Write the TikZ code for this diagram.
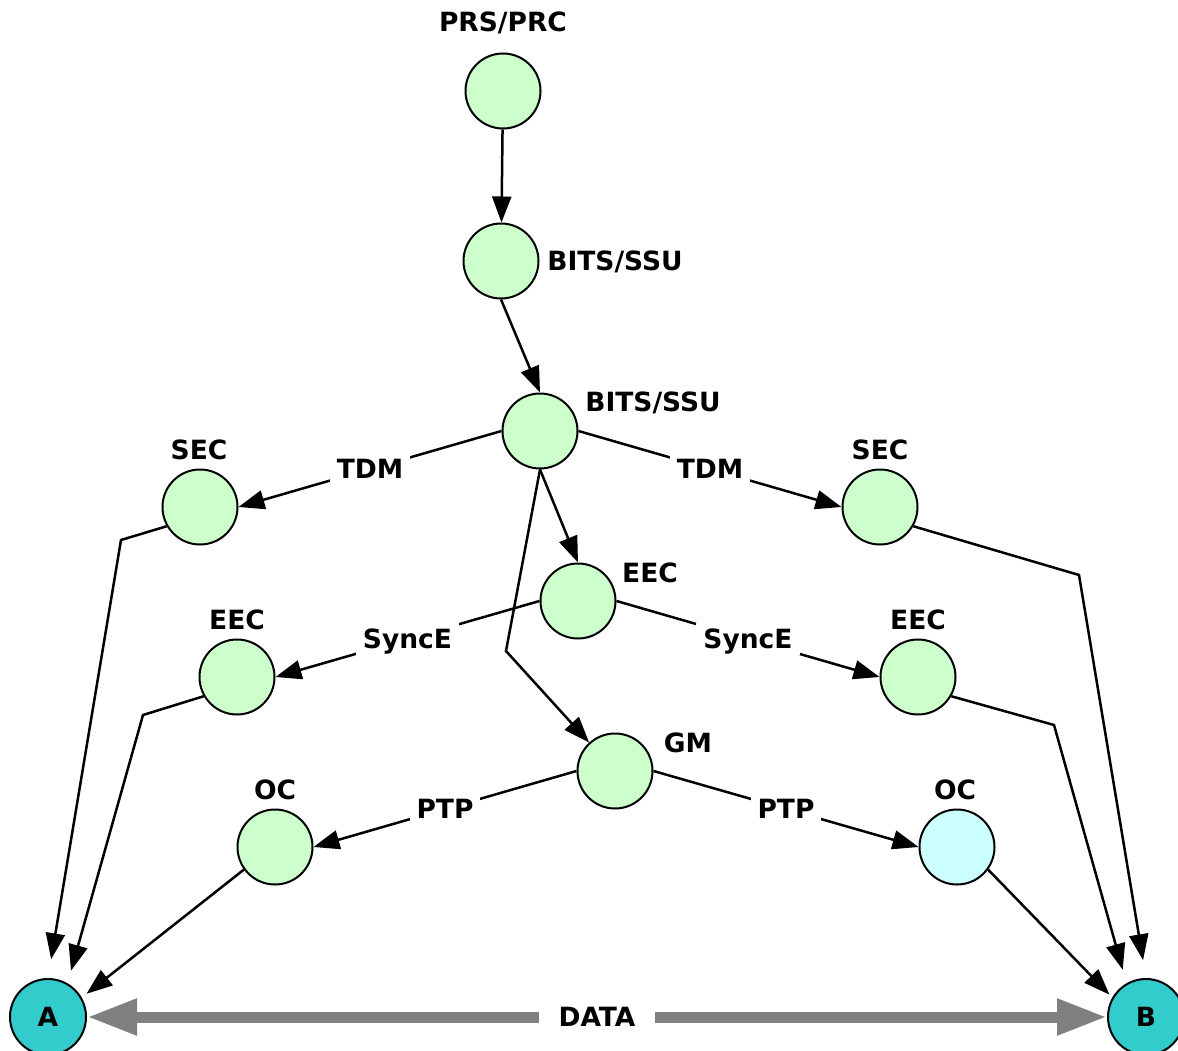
\documentclass[tikz,border=0pt]{standalone}
\usepackage{fontspec}
\setmainfont{DejaVu Sans}
\usetikzlibrary{arrows.meta,calc}
\definecolor{lgreen}{HTML}{CCFFCC}
\definecolor{lcyan}{HTML}{CCFFFF}
\definecolor{tealend}{HTML}{33CCCC}
\definecolor{datagray}{HTML}{808080}
\begin{document}
\begin{tikzpicture}[x=1pt,y=-1pt,
  txt/.style={font=\fontsize{26.5}{30}\selectfont\bfseries,text height=19.3pt,text depth=0pt,inner sep=0pt},
  clk/.style={circle,draw,line width=2pt,fill=lgreen,minimum size=75pt,inner sep=0pt},
  endpt/.style={circle,draw,line width=2pt,fill=tealend,minimum size=76pt,inner sep=0pt,txt},
  conn/.style={line width=2.5pt,-{Triangle[length=26pt,width=19pt]}},
  onlbl/.style={txt,fill=white,inner xsep=7pt,inner ysep=6pt}]
\useasboundingbox (0,0) rectangle (1178,1051);

% clock nodes
\node[clk] (prs) at (503,91) {};
\node[clk] (bits1) at (501,261) {};
\node[clk] (bits2) at (540,431) {};
\node[clk] (secl) at (200,507) {};
\node[clk] (secr) at (880,507) {};
\node[clk] (eecc) at (578,601) {};
\node[clk] (eecl) at (237,677) {};
\node[clk] (eecr) at (918,677) {};
\node[clk] (gm) at (615,771) {};
\node[clk] (ocl) at (275,847) {};
\node[clk,fill=lcyan] (ocr) at (957,847) {};
\node[endpt] (A) at (48,1017) {A};
\node[endpt] (B) at (1146,1017) {B};

% labels
\node[txt] (prsl) at (503,22) {PRS/PRC};
\node[txt] (bits1l) at (615,261) {BITS/SSU};
\node[txt] (bits2l) at (653,402) {BITS/SSU};
\node[txt] (secll) at (199,450) {SEC};
\node[txt] (secrl) at (880,450) {SEC};
\node[txt] (eeccl) at (650,573) {EEC};
\node[txt] (eecll) at (237,620) {EEC};
\node[txt] (eecrl) at (918,620) {EEC};
\node[txt] (gml) at (688,743) {GM};
\node[txt] (ocll) at (275,790) {OC};
\node[txt] (ocrl) at (955,790) {OC};

% bend points
\coordinate (kgm) at (506,651);
\coordinate (ksl) at (121,540);
\coordinate (kel) at (143,715);
\coordinate (ksr) at (1079,575);
\coordinate (ker) at (1054,725);

% connectors
\draw[conn] (prs) -- (bits1);
\draw[conn] (bits1.south) -- (bits2.north);
\draw[conn] (bits2.west) -- node[onlbl] (tdml) {TDM} (secl.east);
\draw[conn] (bits2.east) -- node[onlbl] (tdmr) {TDM} (secr.west);
\draw[conn] (bits2.south) -- (eecc.north);
\draw[conn] (bits2.south) -- (kgm) -- (gm);
\draw[conn] (eecc.west) -- node[onlbl] (syncl) {SyncE} (eecl.east);
\draw[conn] (eecc.east) -- node[onlbl] (syncr) {SyncE} (eecr.west);
\draw[conn] (gm.west) -- node[onlbl] (ptpl) {PTP} (ocl.east);
\draw[conn] (gm.east) -- node[onlbl] (ptpr) {PTP} (ocr.west);

\draw[conn,shorten >=19pt] (secl.210) -- (ksl) -- (A.north);
\draw[conn,shorten >=13pt] (eecl.210) -- (kel) -- (A.60);
\draw[conn,shorten >=6pt] (ocl.216) -- (A.30);
\draw[conn,shorten >=18pt] (secr.-30) -- (ksr) -- (B.north);
\draw[conn,shorten >=14pt] (eecr.-30) -- (ker) -- (B.120);
\draw[conn,shorten >=4pt] (ocr.-36) -- (B.150);

% data
\draw[datagray,line width=11pt,{Triangle[length=50pt,width=34pt]}-{Triangle[length=50pt,width=34pt]}]
  (A) -- node[txt,fill=white,text=black,inner xsep=20pt,inner ysep=8pt] (datal) {DATA} (B);
\end{tikzpicture}
\end{document}
